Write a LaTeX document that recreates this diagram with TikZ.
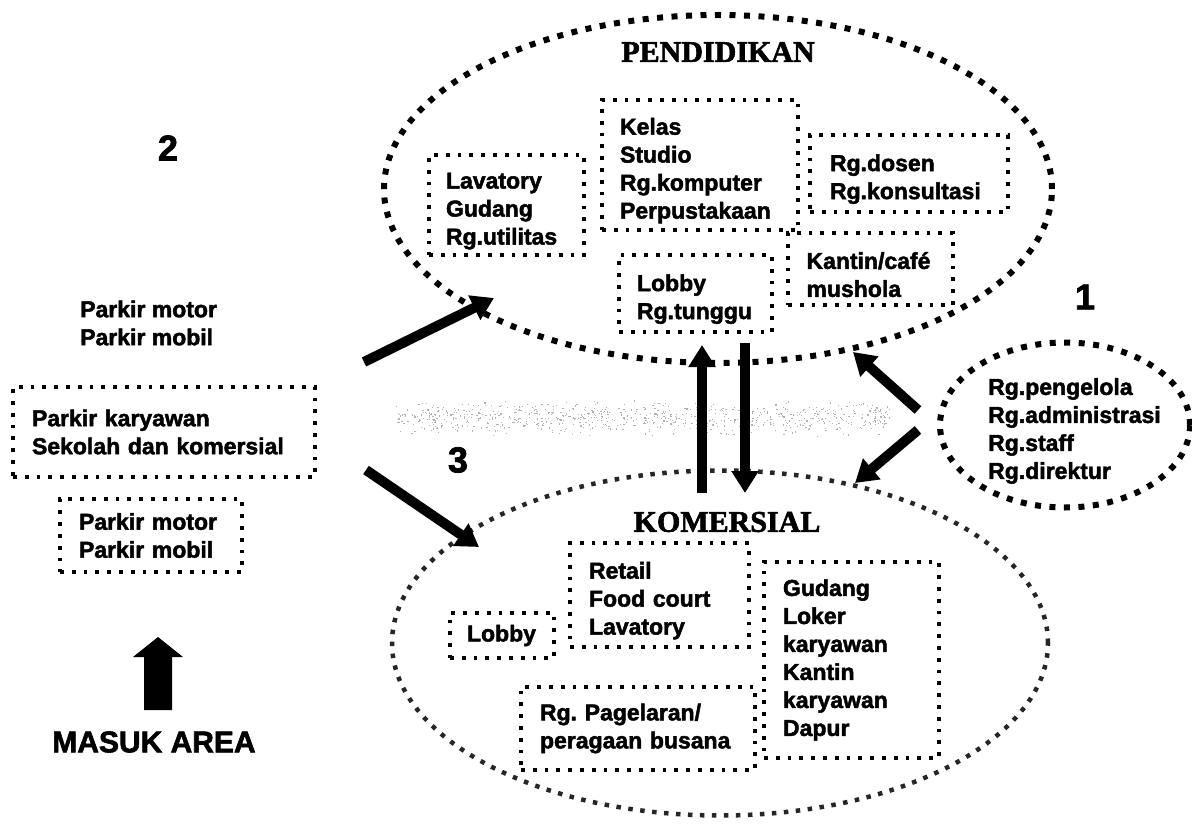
\documentclass[tikz,border=0pt]{standalone}
\usepackage{fontspec}
\setmainfont{Liberation Serif}[BoldFeatures={FakeBold=2}]
\setsansfont{Liberation Sans}[BoldFeatures={FakeBold=2}]
\usetikzlibrary{shapes.geometric,arrows.meta}
\newcommand\tpstrut{\rule{0pt}{28pt}}
\begin{document}
\begin{tikzpicture}[x=1pt,y=-1pt,
  room/.style={draw, line width=3.8pt, dash pattern=on 3.8pt off 8pt, inner sep=0pt,
    align=left, font=\sffamily\bfseries\fontsize{23}{28}\selectfont},
  zone/.style={ellipse, draw, line width=6pt, dash pattern=on 6pt off 8.5pt, inner sep=0pt},
  zonelight/.style={ellipse, draw=black!85, line width=4.5pt, dash pattern=on 4.5pt off 7.5pt, inner sep=0pt},
  ztitle/.style={font=\rmfamily\bfseries\fontsize{30}{30}\selectfont, inner sep=0pt},
  plain/.style={align=left, inner sep=0pt, font=\sffamily\bfseries\fontsize{23}{28}\selectfont},
  num/.style={font=\sffamily\bfseries\fontsize{36}{36}\selectfont, inner sep=0pt},
  arr/.style={line width=10pt, -{Triangle[width=26pt,length=22pt]}}]
\useasboundingbox (0,0) rectangle (1192,824);

% faint grey band
\pgfmathsetseed{42}
\foreach \i in {1,...,800}{
  \pgfmathsetmacro\xx{395+495*rnd}
  \pgfmathsetmacro\yy{417+19*(rnd+rnd-1)}
  \fill[black!30] (\xx,\yy) rectangle ++(1.2,1.2);
}

% zones
\node[zone, minimum width=668pt, minimum height=348pt] (pend) at (718,189) {};
\node[ztitle] (pendt) at (718,52) {PENDIDIKAN};
\node[zonelight, minimum width=656pt, minimum height=345pt] (kom) at (720,643) {};
\node[ztitle] (komt) at (727,522) {KOMERSIAL};
\node[zone, minimum width=250pt, minimum height=165pt] (adm) at (1065,425) {};
\node[plain, anchor=west] (admt) at (988,431) {Rg.pengelola\\Rg.administrasi\\Rg.staff\\Rg.direktur};

% rooms in Pendidikan
\node[room, minimum width=196pt, minimum height=130pt, text width=160pt] (kelas) at (700,165) {\tpstrut Kelas\\Studio\\Rg.komputer\\Perpustakaan};
\node[room, minimum width=155pt, minimum height=100pt, text width=121pt] (lav) at (506.5,205) {\tpstrut Lavatory\\Gudang\\Rg.utilitas};
\node[room, minimum width=198pt, minimum height=77pt, text width=158pt] (dosen) at (909,173.5) {\tpstrut Rg.dosen\\Rg.konsultasi};
\node[room, minimum width=165pt, minimum height=72pt, text width=128pt] (kantin) at (870.5,269) {\tpstrut Kantin/café\\mushola};
\node[room, minimum width=153pt, minimum height=77pt, text width=117pt] (lobbyp) at (695.5,293.5) {\tpstrut Lobby\\Rg.tunggu};

% rooms in Komersial
\node[room, minimum width=179pt, minimum height=104pt, text width=141pt] (retail) at (659.5,595) {\tpstrut Retail\\Food court\\Lavatory};
\node[room, minimum width=104pt, minimum height=45pt, text width=70pt] (lobbyk) at (502,635.5) {Lobby};
\node[room, minimum width=175pt, minimum height=196pt, text width=137pt] (gudang) at (851.5,660) {Gudang\\Loker\\karyawan\\Kantin\\karyawan\\Dapur};
\node[room, minimum width=234pt, minimum height=83pt, text width=196pt] (pagel) at (638,728.5) {Rg.\ Pagelaran/\\peragaan busana};

% parking
\node[num] (n2) at (168,148) {2};
\node[plain, anchor=west] (parkir1) at (80,323) {Parkir motor\\Parkir mobil};
\node[room, minimum width=302pt, minimum height=90pt, text width=264pt] (parkk) at (164,432) {Parkir karyawan\\Sekolah dan komersial};
\node[room, minimum width=182pt, minimum height=73pt, text width=144pt] (parkir2) at (151,535.5) {Parkir motor\\Parkir mobil};
\node[num] (n1) at (1085,297) {1};
\node[num] (n3) at (458,460) {3};

% entrance
\fill (158,637) -- (183,657) -- (172,657) -- (172,710) -- (144,710) -- (144,657) -- (133,657) -- cycle;
\node[font=\sffamily\bfseries\fontsize{30}{30}\selectfont, inner sep=0pt] (masuk) at (154,742) {MASUK AREA};

% connectors
\coordinate (a1t) at (364,362); \coordinate (a1h) at (494,298);
\coordinate (a2t) at (366,470); \coordinate (a2h) at (479,547);
\coordinate (upt) at (702,493); \coordinate (uph) at (702,345);
\coordinate (dnt) at (745,343); \coordinate (dnh) at (745,493);
\coordinate (b1t) at (918,410); \coordinate (b1h) at (853,352);
\coordinate (b2t) at (918,430); \coordinate (b2h) at (855,483);
\draw[arr] (a1t) -- (a1h);
\draw[arr] (a2t) -- (a2h);
\draw[arr] (upt) -- (uph);
\draw[arr] (dnt) -- (dnh);
\draw[arr] (b1t) -- (b1h);
\draw[arr] (b2t) -- (b2h);
\end{tikzpicture}
\end{document}
